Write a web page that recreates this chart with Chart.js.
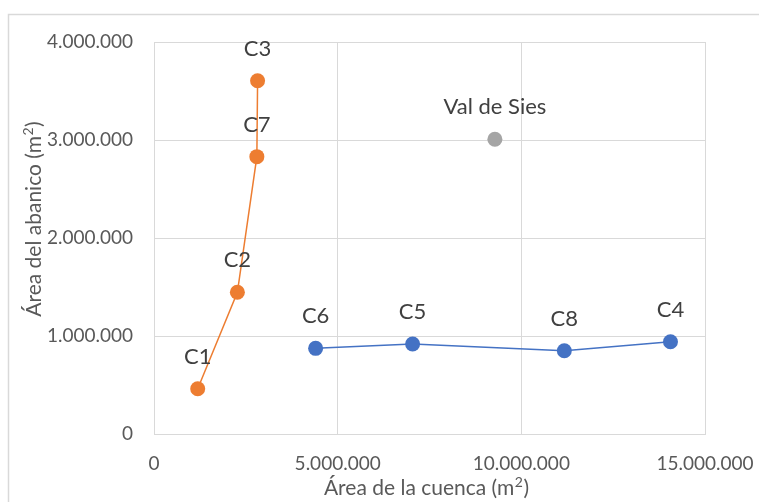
<!DOCTYPE html>
<html>
<head>
<meta charset="utf-8">
<script src="https://cdn.jsdelivr.net/npm/chart.js@4/dist/chart.umd.min.js"></script>
<style>
  html, body { margin: 0; padding: 0; background: #ffffff; }
  #wrap { width: 759px; height: 502px; position: relative; }
</style>
</head>
<body>
<div id="wrap"><canvas id="chart" width="759" height="502"></canvas></div>
<script>
// Cuencas con abanico de pendiente fuerte
const groupANames = ['C1', 'C2', 'C7', 'C3'];
const groupABasin = [1190000, 2270000, 2800000, 2820000];
const groupAFan   = [462000, 1446000, 2830000, 3605000];

// Cuencas con abanico de área similar
const groupBNames = ['C6', 'C5', 'C8', 'C4'];
const groupBBasin = [4400000, 7040000, 11170000, 14060000];
const groupBFan   = [874000, 918000, 850000, 942000];

// Punto de referencia
const refNames = ['Val de Sies'];
const refBasin = [9280000];
const refFan   = [3007000];

// Títulos de los ejes: texto base, exponente y cierre
const xTitleParts = ['Área de la cuenca (m', '2', ')'];
const yTitleParts = ['Área del abanico (m', '2', ')'];

const FONT = 'Lato, "Open Sans", sans-serif';

function toPoints(xs, ys) {
  return xs.map((x, i) => ({ x: x, y: ys[i] }));
}

function fmtThousands(v) {
  return String(Math.round(v)).replace(/\B(?=(\d{3})+(?!\d))/g, '.');
}

// Dibuja un título con exponente, centrado en (0, 0) del contexto actual
function drawSupTitle(ctx, parts, size) {
  const base = size + 'px ' + FONT;
  const sup = Math.round(size * 0.66) + 'px ' + FONT;
  ctx.font = base;
  const w0 = ctx.measureText(parts[0]).width;
  const w2 = ctx.measureText(parts[2]).width;
  ctx.font = sup;
  const w1 = ctx.measureText(parts[1]).width + 1;
  const total = w0 + w1 + w2;
  let x = -total / 2;
  ctx.textAlign = 'left';
  ctx.textBaseline = 'alphabetic';
  const baseY = size * 0.36;
  ctx.font = base;
  ctx.fillText(parts[0], x, baseY);
  x += w0;
  ctx.font = sup;
  ctx.fillText(parts[1], x + 0.5, baseY - size * 0.38);
  x += w1;
  ctx.font = base;
  ctx.fillText(parts[2], x, baseY);
}

// Etiquetas de nombre sobre cada punto
const pointLabels = {
  id: 'pointLabels',
  afterDatasetsDraw(chart) {
    const ctx = chart.ctx;
    ctx.save();
    ctx.font = '22px ' + FONT;
    ctx.fillStyle = '#404040';
    ctx.textAlign = 'center';
    ctx.textBaseline = 'middle';
    chart.data.datasets.forEach((ds, di) => {
      const meta = chart.getDatasetMeta(di);
      meta.data.forEach((pt, i) => {
        ctx.fillText(ds.names[i], pt.x, pt.y - 32);
      });
    });
    ctx.restore();
  }
};

// Marco exterior y títulos de los ejes
const frameAndTitles = {
  id: 'frameAndTitles',
  beforeDraw(chart) {
    const ctx = chart.ctx;
    ctx.save();
    ctx.fillStyle = '#ffffff';
    ctx.fillRect(0, 0, chart.width, chart.height);
    ctx.strokeStyle = '#D9D9D9';
    ctx.lineWidth = 1.5;
    ctx.strokeRect(8.5, 14.5, 900, 700);
    ctx.restore();
  },
  afterDraw(chart) {
    const ctx = chart.ctx;
    const area = chart.chartArea;
    ctx.save();
    ctx.fillStyle = '#595959';
    ctx.translate((area.left + area.right) / 2 - 3, 487);
    drawSupTitle(ctx, xTitleParts, 21);
    ctx.restore();
    ctx.save();
    ctx.fillStyle = '#595959';
    ctx.translate(33, 219);
    ctx.rotate(-Math.PI / 2);
    drawSupTitle(ctx, yTitleParts, 21);
    ctx.restore();
  }
};

new Chart(document.getElementById('chart'), {
  type: 'scatter',
  data: {
    datasets: [
      {
        names: groupANames,
        data: toPoints(groupABasin, groupAFan),
        showLine: true,
        borderColor: '#ED7D31',
        backgroundColor: '#ED7D31',
        borderWidth: 1.5,
        pointRadius: 7.5,
        pointBorderWidth: 0,
        pointBackgroundColor: '#ED7D31'
      },
      {
        names: groupBNames,
        data: toPoints(groupBBasin, groupBFan),
        showLine: true,
        borderColor: '#4472C4',
        backgroundColor: '#4472C4',
        borderWidth: 1.5,
        pointRadius: 7.5,
        pointBorderWidth: 0,
        pointBackgroundColor: '#4472C4'
      },
      {
        names: refNames,
        data: toPoints(refBasin, refFan),
        showLine: false,
        borderColor: '#A5A5A5',
        backgroundColor: '#A5A5A5',
        pointRadius: 7.5,
        pointBorderWidth: 0,
        pointBackgroundColor: '#A5A5A5'
      }
    ]
  },
  options: {
    responsive: false,
    animation: false,
    events: [],
    layout: { padding: { left: 0, right: 54, top: 42, bottom: 0 } },
    plugins: {
      legend: { display: false },
      tooltip: { enabled: false }
    },
    scales: {
      x: {
        type: 'linear',
        min: 0,
        max: 15000000,
        afterFit(scale) {
          scale.height = 68;
          scale.paddingLeft = 0;
          scale.paddingRight = 0;
        },
        ticks: {
          stepSize: 5000000,
          padding: 18,
          color: '#595959',
          font: { family: FONT, size: 19 },
          maxRotation: 0,
          callback: (v) => fmtThousands(v)
        },
        grid: { color: '#D9D9D9', lineWidth: 1, drawTicks: false },
        border: { color: '#D9D9D9', width: 1 }
      },
      y: {
        type: 'linear',
        min: 0,
        max: 4000000,
        afterFit(scale) {
          scale.width = 154;
          scale.paddingTop = 0;
          scale.paddingBottom = 0;
        },
        ticks: {
          stepSize: 1000000,
          padding: 21,
          color: '#595959',
          font: { family: FONT, size: 19 },
          callback: (v) => fmtThousands(v)
        },
        grid: { color: '#D9D9D9', lineWidth: 1, drawTicks: false },
        border: { color: '#D9D9D9', width: 1 }
      }
    }
  },
  plugins: [frameAndTitles, pointLabels]
});
</script>
</body>
</html>
